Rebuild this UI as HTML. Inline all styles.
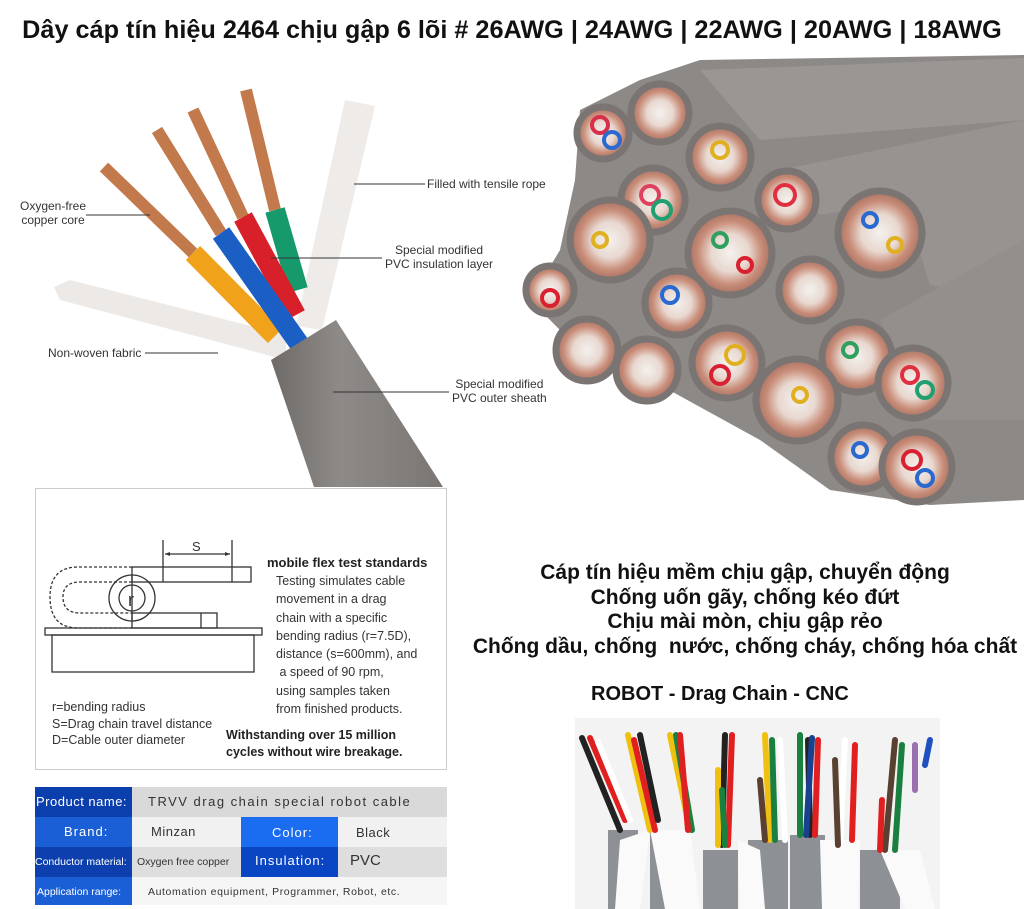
<!DOCTYPE html>
<html><head><meta charset="utf-8"><style>
body{margin:0;width:1024px;height:909px;background:#fff;overflow:hidden;position:relative;font-family:"Liberation Sans",sans-serif}
.t{position:absolute;white-space:nowrap}
svg{position:absolute;left:0;top:0}
</style></head><body>
<svg width="1024" height="909" viewBox="0 0 1024 909">
<defs>
<linearGradient id="sh" x1="0" y1="0" x2="1" y2="0"><stop offset="0" stop-color="#6e6a68"/><stop offset=".4" stop-color="#8e8a88"/><stop offset="1" stop-color="#7a7674"/></linearGradient>
<radialGradient id="core"><stop offset="0" stop-color="#f4f1ee"/><stop offset=".45" stop-color="#e8d8d0"/><stop offset=".75" stop-color="#c98e7a"/><stop offset="1" stop-color="#a87060"/></radialGradient>
</defs>
<!-- left cable -->
<polygon points="54,287 70,280 286,335 286,360 60,300" fill="#ece9e6"/>
<polygon points="345,100 375,106 322,330 296,326" fill="#eeebe8"/>
<line x1="104" y1="167" x2="193" y2="253" stroke="#c27a4c" stroke-width="12"/>
<line x1="157" y1="130" x2="221" y2="233" stroke="#c27a4c" stroke-width="12"/>
<line x1="193" y1="110" x2="243" y2="217" stroke="#c27a4c" stroke-width="12"/>
<line x1="246" y1="90" x2="275" y2="210" stroke="#c27a4c" stroke-width="12"/>
<line x1="193" y1="253" x2="275" y2="336" stroke="#f0a21a" stroke-width="20"/>
<line x1="275" y1="210" x2="298" y2="290" stroke="#169a6c" stroke-width="20"/>
<line x1="243" y1="217" x2="296" y2="315" stroke="#d8202a" stroke-width="20"/>
<line x1="221" y1="233" x2="300" y2="345" stroke="#1b5fc4" stroke-width="20"/>
<polygon points="271,360 336,320 443,487 314,487" fill="url(#sh)"/>
<!-- leader lines -->
<g stroke="#333" stroke-width="1">
<line x1="86" y1="215" x2="150" y2="215"/><line x1="354" y1="184" x2="425" y2="184"/>
<line x1="271" y1="258" x2="382" y2="258"/><line x1="145" y1="353" x2="218" y2="353"/>
<line x1="333" y1="392" x2="449" y2="392"/></g>
<!-- right bundle -->
<polygon points="580,110 640,80 700,60 1024,55 1024,500 930,505 830,490 760,440 560,330 530,300 560,250 575,180" fill="#8d8987"/>
<polygon points="700,70 1024,58 1024,120 760,140" fill="#9a9694"/>
<polygon points="780,170 1024,120 1024,180 820,215" fill="#979391"/>
<polygon points="900,190 1024,170 1024,300 930,285" fill="#979391"/>
<polygon points="880,320 1024,240 1024,420 930,420" fill="#938f8d"/>
<g stroke="#7a7573" stroke-width="7" fill="url(#core)">
<circle cx="603" cy="133" r="26"/><circle cx="660" cy="113" r="29"/><circle cx="720" cy="157" r="31"/>
<circle cx="653" cy="200" r="32"/><circle cx="610" cy="240" r="40"/><circle cx="787" cy="200" r="29"/>
<circle cx="880" cy="233" r="42"/><circle cx="730" cy="253" r="42"/><circle cx="550" cy="290" r="24"/>
<circle cx="677" cy="303" r="32"/><circle cx="810" cy="290" r="31"/><circle cx="587" cy="350" r="31"/>
<circle cx="647" cy="370" r="31"/><circle cx="727" cy="363" r="35"/><circle cx="857" cy="357" r="35"/>
<circle cx="913" cy="383" r="35"/><circle cx="797" cy="400" r="41"/><circle cx="863" cy="457" r="32"/>
<circle cx="917" cy="467" r="35"/></g>
<g fill="none" stroke-width="4">
<circle cx="600" cy="125" r="8" stroke="#d8304a"/><circle cx="612" cy="140" r="8" stroke="#2a6ad0"/>
<circle cx="720" cy="150" r="8" stroke="#e0b020"/><circle cx="650" cy="195" r="9" stroke="#e04060"/>
<circle cx="662" cy="210" r="9" stroke="#20a070"/><circle cx="785" cy="195" r="10" stroke="#e03040"/>
<circle cx="870" cy="220" r="7" stroke="#2a6ad0"/><circle cx="895" cy="245" r="7" stroke="#e0b020"/>
<circle cx="720" cy="240" r="7" stroke="#30a060"/><circle cx="745" cy="265" r="7" stroke="#d82030"/>
<circle cx="550" cy="298" r="8" stroke="#d82030"/><circle cx="670" cy="295" r="8" stroke="#2a6ad0"/>
<circle cx="735" cy="355" r="9" stroke="#e0b020"/><circle cx="720" cy="375" r="9" stroke="#d82030"/>
<circle cx="800" cy="395" r="7" stroke="#e0b020"/><circle cx="850" cy="350" r="7" stroke="#30a060"/>
<circle cx="910" cy="375" r="8" stroke="#e03040"/><circle cx="925" cy="390" r="8" stroke="#20a070"/>
<circle cx="912" cy="460" r="9" stroke="#d82030"/><circle cx="925" cy="478" r="8" stroke="#2a6ad0"/>
<circle cx="860" cy="450" r="7" stroke="#2a6ad0"/><circle cx="600" cy="240" r="7" stroke="#e0b020"/>
</g>
<!-- test box -->
<rect x="35.5" y="488.5" width="411" height="281" fill="#fff" stroke="#ccc"/>
<g stroke="#333" stroke-width="1.3" fill="none">
<path d="M132 567 H78 Q50 567 50 597 Q50 628 78 628 H132" stroke-dasharray="3,2"/>
<path d="M132 582 H80 Q63 582 63 597 Q63 613 80 613 H132" stroke-dasharray="3,2"/>
<circle cx="132" cy="598" r="23"/><circle cx="132" cy="598" r="13"/>
<rect x="132" y="567" width="119" height="15"/><line x1="232" y1="567" x2="232" y2="582"/><line x1="163" y1="567" x2="163" y2="582"/>
<rect x="132" y="613" width="85" height="15"/><line x1="201" y1="613" x2="201" y2="628"/>
<rect x="45" y="628" width="217" height="7"/><rect x="52" y="635" width="202" height="37"/>
<line x1="163" y1="540" x2="163" y2="567"/><line x1="232" y1="540" x2="232" y2="567"/>
<line x1="165" y1="554" x2="230" y2="554"/><line x1="132" y1="575" x2="132" y2="620"/></g>
<path d="M165 554 l5 -2 v4z M230 554 l-5 -2 v4z" fill="#333"/>
<text x="192" y="551" font-size="13" fill="#333" font-family="Liberation Sans">S</text>
<text x="128" y="606" font-size="18" fill="#333" font-family="Liberation Sans">r</text>
<!-- table -->
<rect x="35" y="787" width="97" height="118" fill="#1a5fd6"/>
<rect x="35" y="787" width="97" height="30" fill="#0c3fae"/>
<rect x="35" y="847" width="97" height="30" fill="#0d3fae"/>
<rect x="132" y="787" width="315" height="30" fill="#d9d9d9"/>
<rect x="132" y="817" width="315" height="30" fill="#f1f1f1"/>
<rect x="132" y="847" width="315" height="30" fill="#dedede"/>
<rect x="132" y="877" width="315" height="28" fill="#f6f6f6"/>
<rect x="241" y="817" width="97" height="30" fill="#1a6cf0"/>
<rect x="241" y="847" width="97" height="30" fill="#0a45c4"/>
<!-- bottom photo -->
<rect x="575" y="718" width="365" height="191" fill="#f3f3f3"/>
<g fill="#8d9094"><rect x="608" y="830" width="30" height="79"/><rect x="650" y="830" width="35" height="79"/><rect x="703" y="850" width="35" height="59"/><rect x="748" y="840" width="40" height="69"/><rect x="790" y="835" width="35" height="74"/><rect x="860" y="850" width="40" height="59"/></g>
<g fill="#fafafa"><polygon points="650,830 690,830 700,909 665,909"/><polygon points="620,840 650,830 640,909 615,909"/><polygon points="738,840 760,850 765,909 740,909"/><polygon points="820,840 860,840 858,909 822,909"/><polygon points="880,850 920,850 935,909 905,909"/></g>
<g stroke-width="6" stroke-linecap="round">
<line x1="582" y1="738" x2="620" y2="830" stroke="#222"/><line x1="590" y1="738" x2="625" y2="820" stroke="#e02020"/><line x1="598" y1="742" x2="630" y2="820" stroke="#fff"/>
<line x1="628" y1="735" x2="650" y2="830" stroke="#f0c010"/><line x1="634" y1="740" x2="655" y2="830" stroke="#e02020"/><line x1="640" y1="735" x2="658" y2="820" stroke="#222"/>
<line x1="670" y1="735" x2="690" y2="830" stroke="#f0c010"/><line x1="676" y1="735" x2="692" y2="830" stroke="#1a8040"/><line x1="680" y1="735" x2="688" y2="830" stroke="#e02020"/>
<line x1="725" y1="735" x2="722" y2="845" stroke="#222"/><line x1="732" y1="735" x2="728" y2="845" stroke="#e02020"/><line x1="718" y1="770" x2="718" y2="845" stroke="#f0c010"/><line x1="722" y1="790" x2="725" y2="845" stroke="#1a8040"/>
<line x1="765" y1="735" x2="770" y2="840" stroke="#f0c010"/><line x1="772" y1="740" x2="775" y2="840" stroke="#1a8040"/><line x1="780" y1="740" x2="785" y2="840" stroke="#fff"/><line x1="760" y1="780" x2="765" y2="840" stroke="#5a4030"/>
<line x1="800" y1="735" x2="800" y2="835" stroke="#1a8040"/><line x1="808" y1="740" x2="810" y2="835" stroke="#222"/><line x1="818" y1="740" x2="815" y2="835" stroke="#e02020"/><line x1="812" y1="738" x2="806" y2="835" stroke="#1a4090"/>
<line x1="845" y1="740" x2="840" y2="845" stroke="#fff"/><line x1="855" y1="745" x2="852" y2="840" stroke="#e02020"/><line x1="835" y1="760" x2="838" y2="845" stroke="#5a4030"/>
<line x1="895" y1="740" x2="885" y2="850" stroke="#5a4030"/><line x1="902" y1="745" x2="895" y2="850" stroke="#1a8040"/><line x1="915" y1="745" x2="915" y2="790" stroke="#9a70b0"/><line x1="930" y1="740" x2="925" y2="765" stroke="#2050c0"/><line x1="882" y1="800" x2="880" y2="850" stroke="#e02020"/>
</g>
</svg>

<div class="t" style="left:0;width:1024px;text-align:center;top:16px;font-size:25px;font-weight:bold;color:#111;transform:scaleX(1.01)">Dây cáp tín hiệu 2464 chịu gập 6 lõi # 26AWG | 24AWG | 22AWG | 20AWG | 18AWG</div>

<div class="t" style="left:20px;top:199px;font-size:12px;color:#333;line-height:14px;text-align:center">Oxygen-free<br>copper core</div>
<div class="t" style="left:427px;top:177px;font-size:12px;color:#333">Filled with tensile rope</div>
<div class="t" style="left:385px;top:243px;font-size:12px;color:#333;line-height:14px;text-align:center">Special modified<br>PVC insulation layer</div>
<div class="t" style="left:48px;top:346px;font-size:12px;color:#333">Non-woven fabric</div>
<div class="t" style="left:452px;top:377px;font-size:12px;color:#333;line-height:14px;text-align:center">Special modified<br>PVC outer sheath</div>

<div class="t" style="left:267px;top:555px;font-size:13px;font-weight:bold;color:#222">mobile flex test standards</div>
<div class="t" style="left:276px;top:572px;font-size:12.5px;color:#333;line-height:18.3px">Testing simulates cable<br>movement in a drag<br>chain with a specific<br>bending radius (r=7.5D),<br>distance (s=600mm), and<br>&nbsp;a speed of 90 rpm,<br>using samples taken<br>from finished products.</div>
<div class="t" style="left:52px;top:699px;font-size:12.5px;color:#333;line-height:16.5px">r=bending radius<br>S=Drag chain travel distance<br>D=Cable outer diameter</div>
<div class="t" style="left:226px;top:727px;font-size:12.5px;font-weight:bold;color:#222;line-height:16.5px">Withstanding over 15 million<br>cycles without wire breakage.</div>

<div class="t" style="left:36px;top:794px;font-size:13px;color:#fff;letter-spacing:.5px">Product name:</div>
<div class="t" style="left:148px;top:794px;font-size:13px;color:#333;letter-spacing:1.5px">TRVV drag chain special robot cable</div>
<div class="t" style="left:64px;top:824px;font-size:13px;color:#fff;letter-spacing:1px">Brand:</div>
<div class="t" style="left:151px;top:824px;font-size:13px;color:#333;letter-spacing:.5px">Minzan</div>
<div class="t" style="left:272px;top:825px;font-size:13px;color:#fff;letter-spacing:1px">Color:</div>
<div class="t" style="left:356px;top:825px;font-size:13px;color:#333;letter-spacing:.5px">Black</div>
<div class="t" style="left:35px;top:856px;font-size:10.5px;color:#fff">Conductor material:</div>
<div class="t" style="left:137px;top:856px;font-size:10.5px;color:#333">Oxygen free copper</div>
<div class="t" style="left:255px;top:853px;font-size:13px;color:#fff;letter-spacing:1px">Insulation:</div>
<div class="t" style="left:350px;top:852px;font-size:15px;color:#333">PVC</div>
<div class="t" style="left:37px;top:886px;font-size:10.5px;color:#fff">Application range:</div>
<div class="t" style="left:148px;top:886px;font-size:10.5px;color:#333;letter-spacing:.6px">Automation equipment, Programmer, Robot, etc.</div>

<div class="t" style="left:470px;width:550px;text-align:center;top:561px;font-size:21px;font-weight:bold;color:#111;line-height:24.5px">Cáp tín hiệu mềm chịu gập, chuyển động<br>Chống uốn gãy, chống kéo đứt<br>Chịu mài mòn, chịu gập rẻo<br>Chống dầu, chống&nbsp; nước, chống cháy, chống hóa chất</div>
<div class="t" style="left:591px;top:683px;font-size:20px;font-weight:bold;color:#111">ROBOT - Drag Chain - CNC</div>
</body></html>
